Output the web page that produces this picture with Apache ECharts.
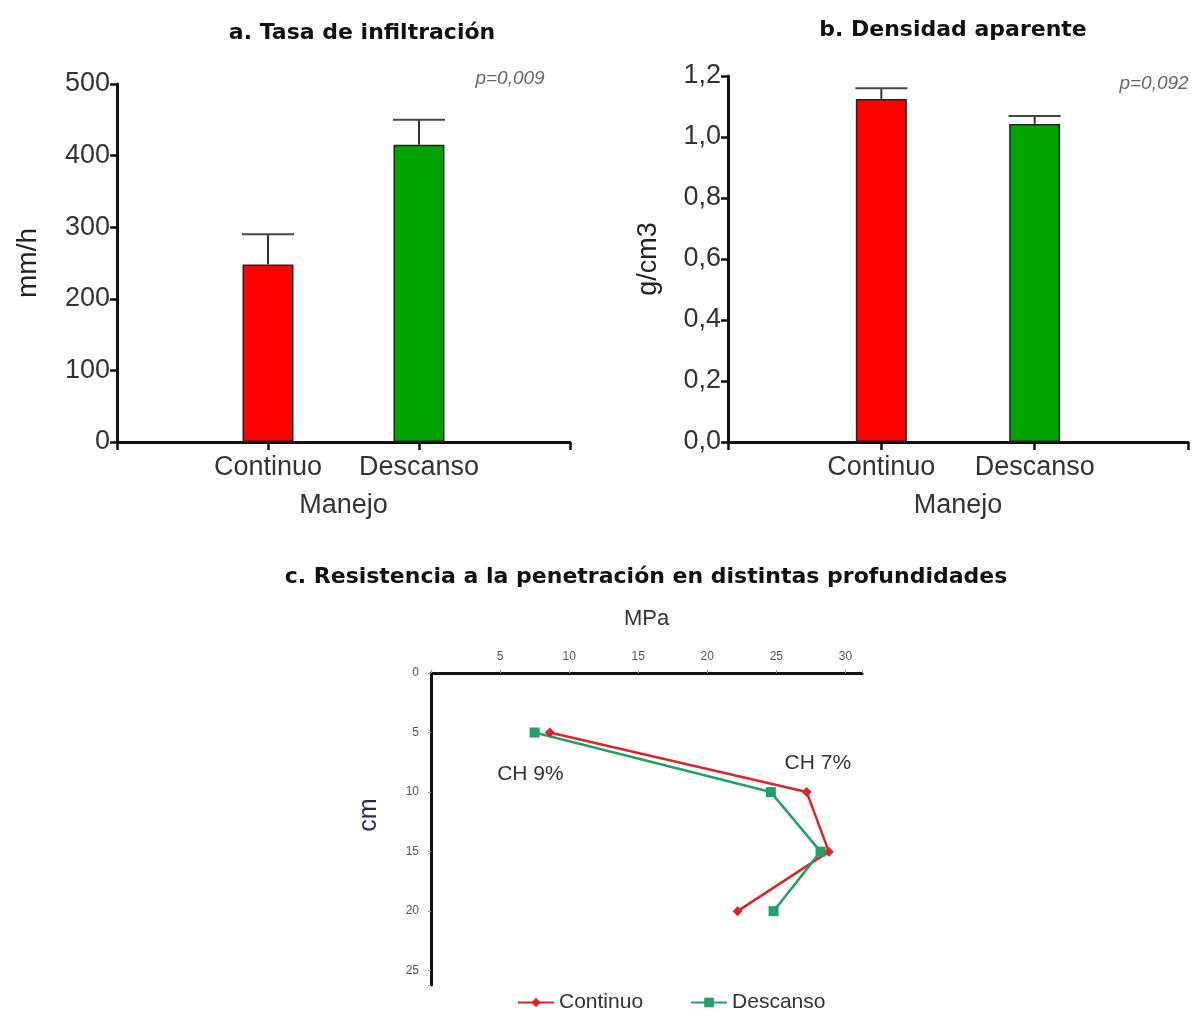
<!DOCTYPE html>
<html><head><meta charset="utf-8">
<script src="https://cdn.jsdelivr.net/npm/echarts@6/dist/echarts.min.js"></script>
<style>html,body{margin:0;padding:0;background:#fff}#c{width:1192px;height:1010px}</style>
</head><body><div id="c"></div>
<script>
// ---- data ----
const categories = ['Continuo', 'Descanso'];
const infiltration = [248, 415];        // mm/h
const infiltrationErr = [290, 450];     // upper error bar
const density = [1.125, 1.043];         // g/cm3
const densityErr = [1.16, 1.069];
const depths = [5, 10, 15, 20];         // cm
const mpaContinuo = [8.6, 27.2, 28.8, 22.2];
const mpaDescanso = [7.5, 24.6, 28.2, 24.8];
const yTicksA = [0, 100, 200, 300, 400, 500];
const yTicksB = [0, 0.2, 0.4, 0.6, 0.8, 1.0, 1.2];
const pValueA = 'p=0,009';
const pValueB = 'p=0,092';

const barColors = ['#ff0000', '#00a400'];
const FONT = 'Liberation Sans, Arial, sans-serif';
const TFONT = 'DejaVu Sans, sans-serif';
const padCats = [''].concat(categories, ['']);
const padVals = arr => ['-'].concat(arr.map((v, i) => ({value: v, itemStyle: {color: barColors[i]}})), ['-']);
const errData = (vals, errs) => vals.map((v, i) => [i + 1, v, errs[i]]);

function errRender(params, api) {
  const x = api.value(0);
  const p0 = api.coord([x, api.value(1)]);
  const p1 = api.coord([x, api.value(2)]);
  const hw = 26;
  return {type: 'group', children: [
    {type: 'line', shape: {x1: p0[0], y1: p0[1], x2: p1[0], y2: p1[1]}, style: {stroke: '#333', lineWidth: 2}},
    {type: 'line', shape: {x1: p1[0] - hw, y1: p1[1], x2: p1[0] + hw, y2: p1[1]}, style: {stroke: '#444', lineWidth: 2}}
  ]};
}

const axisLine = {lineStyle: {color: '#111', width: 3}};
const catAxis = (gi) => ({
  type: 'category', gridIndex: gi, data: padCats, boundaryGap: false,
  axisLine: axisLine,
  axisTick: {show: true, interval: 0, length: 8, lineStyle: {color: '#111', width: 2.5}},
  axisLabel: {interval: 0, fontSize: 27, color: '#333', fontFamily: FONT, margin: 12},
  name: 'Manejo', nameLocation: 'middle', nameGap: 50,
  nameTextStyle: {fontSize: 27, color: '#333', fontFamily: FONT},
  splitLine: {show: false}
});

const chart = echarts.init(document.getElementById('c'));
chart.setOption({
  animation: false,
  backgroundColor: '#fff',
  title: [
    {text: 'a. Tasa de infiltración', left: 357, top: 17, textAlign: 'center',
     textStyle: {fontSize: 22, fontWeight: 'bold', color: '#111', fontFamily: TFONT}},
    {text: 'b. Densidad aparente', left: 948, top: 14, textAlign: 'center',
     textStyle: {fontSize: 22, fontWeight: 'bold', color: '#111', fontFamily: TFONT}},
    {text: 'c. Resistencia a la penetración en distintas profundidades', left: 641, top: 561, textAlign: 'center',
     textStyle: {fontSize: 22, fontWeight: 'bold', color: '#111', fontFamily: TFONT}},
    {text: pValueA, left: 505, top: 64, textAlign: 'center',
     textStyle: {fontSize: 19, fontStyle: 'italic', fontWeight: 'normal', color: '#666', fontFamily: FONT}},
    {text: pValueB, left: 1149, top: 69, textAlign: 'center',
     textStyle: {fontSize: 19, fontStyle: 'italic', fontWeight: 'normal', color: '#666', fontFamily: FONT}}
  ],
  grid: [
    {left: 117, top: 84, width: 453, height: 358},
    {left: 728, top: 76, width: 460, height: 366},
    {left: 431, top: 673, width: 431, height: 312}
  ],
  xAxis: [
    catAxis(0),
    catAxis(1),
    {type: 'value', gridIndex: 2, position: 'top', min: 0, max: 31.2, interval: 5,
     axisLine: {lineStyle: {color: '#111', width: 3}},
     axisTick: {show: true, length: 3, lineStyle: {color: '#999'}},
     axisLabel: {fontSize: 12, color: '#555', fontFamily: FONT, margin: 10,
       formatter: v => (v > 0 && v % 5 === 0) ? String(v) : ''},
     splitLine: {show: false},
     name: 'MPa', nameLocation: 'middle', nameGap: 43,
     nameTextStyle: {fontSize: 22, color: '#333', fontFamily: FONT}}
  ],
  yAxis: [
    {type: 'value', gridIndex: 0, min: 0, max: 500, interval: 100,
     axisLine: {show: true, lineStyle: {color: '#111', width: 3}},
     axisTick: {show: true, length: 7, lineStyle: {color: '#111', width: 2.5}},
     axisLabel: {fontSize: 27, color: '#333', fontFamily: FONT, margin: 7,
       formatter: v => yTicksA.indexOf(v) >= 0 ? String(v) : ''},
     splitLine: {show: false},
     name: 'mm/h', nameLocation: 'middle', nameGap: 75,
     nameTextStyle: {fontSize: 28, color: '#222', fontFamily: FONT}},
    {type: 'value', gridIndex: 1, min: 0, max: 1.2, interval: 0.2,
     axisLine: {show: true, lineStyle: {color: '#111', width: 3}},
     axisTick: {show: true, length: 7, lineStyle: {color: '#111', width: 2.5}},
     axisLabel: {fontSize: 27, color: '#333', fontFamily: FONT, margin: 7,
       formatter: v => v.toFixed(1).replace('.', ',')},
     splitLine: {show: false},
     name: 'g/cm3', nameLocation: 'middle', nameGap: 66,
     nameTextStyle: {fontSize: 27, color: '#222', fontFamily: FONT}},
    {type: 'value', gridIndex: 2, inverse: true, min: 0, max: 26.2, interval: 5,
     axisLine: {show: true, lineStyle: {color: '#111', width: 3}},
     axisTick: {show: true, length: 3, lineStyle: {color: '#999'}},
     axisLabel: {fontSize: 12, color: '#555', fontFamily: FONT, margin: 12,
       formatter: v => v % 5 === 0 ? String(v) : ''},
     splitLine: {show: false},
     name: 'cm', nameLocation: 'middle', nameGap: 49,
     nameTextStyle: {fontSize: 25, color: '#2a2a55', fontFamily: FONT, padding: [0, 0, 0, 28]}}
  ],
  legend: {
    left: 512, top: 987, itemWidth: 36, itemHeight: 12, itemGap: 47,
    textStyle: {fontSize: 21, color: '#333', fontFamily: FONT},
    data: ['Continuo', 'Descanso']
  },
  series: [
    {type: 'bar', xAxisIndex: 0, yAxisIndex: 0, data: padVals(infiltration), barWidth: 51,
     itemStyle: {borderColor: '#222', borderWidth: 1.5}},
    {type: 'custom', xAxisIndex: 0, yAxisIndex: 0, renderItem: errRender,
     encode: {x: 0, y: [1, 2]}, data: errData(infiltration, infiltrationErr), z: 5},
    {type: 'bar', xAxisIndex: 1, yAxisIndex: 1, data: padVals(density), barWidth: 51,
     itemStyle: {borderColor: '#222', borderWidth: 1.5}},
    {type: 'custom', xAxisIndex: 1, yAxisIndex: 1, renderItem: errRender,
     encode: {x: 0, y: [1, 2]}, data: errData(density, densityErr), z: 5},
    {name: 'Continuo', type: 'line', xAxisIndex: 2, yAxisIndex: 2,
     data: depths.map((d, i) => [mpaContinuo[i], d]),
     symbol: 'diamond', symbolSize: 10, color: '#d9262a',
     lineStyle: {width: 2.5, color: '#d9262a'}, itemStyle: {color: '#d9262a'},
     markPoint: {symbolSize: 0, silent: true,
       label: {show: true, fontSize: 21, color: '#333', fontFamily: FONT, formatter: p => p.name},
       data: [{name: 'CH 9%', coord: [7.2, 8.5]}, {name: 'CH 7%', coord: [28.0, 7.6]}]}},
    {name: 'Descanso', type: 'line', xAxisIndex: 2, yAxisIndex: 2,
     data: depths.map((d, i) => [mpaDescanso[i], d]),
     symbol: 'rect', symbolSize: 10, color: '#22a067',
     lineStyle: {width: 2.5, color: '#22a067'}, itemStyle: {color: '#22a067'}}
  ]
});
</script></body></html>
